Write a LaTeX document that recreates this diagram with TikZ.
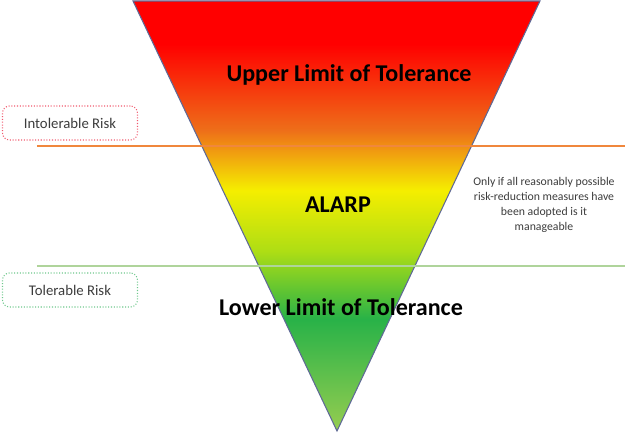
\documentclass[tikz,border=0pt]{standalone}
\usepackage{fontspec}
\setmainfont{Carlito}
\usepackage{xcolor}
\usepackage{tikz}
\usetikzlibrary{positioning, shapes, calc}

\definecolor{riskred}{RGB}{255,0,0}
\definecolor{riskorange}{RGB}{238,110,25}
\definecolor{riskyellow}{RGB}{245,238,0}
\definecolor{riskyg}{RGB}{175,222,20}
\definecolor{riskgreen}{RGB}{40,178,72}
\definecolor{risklight}{RGB}{150,205,80}
\definecolor{edgeblue}{RGB}{95,105,150}
\definecolor{lineorange}{RGB}{240,135,60}
\definecolor{linegreen}{RGB}{175,212,155}
\definecolor{boxred}{RGB}{240,90,110}
\definecolor{boxgreen}{RGB}{110,200,140}
\definecolor{notegray}{RGB}{60,60,60}

\pgfdeclareverticalshading{riskgrad}{100bp}{
  color(0bp)=(risklight); color(25bp)=(risklight);
  color(38bp)=(riskgreen); color(46bp)=(riskyg);
  color(53bp)=(riskyellow); color(60bp)=(riskorange);
  color(70bp)=(riskred); color(75bp)=(riskred); color(100bp)=(riskred)}

\begin{document}
\begin{tikzpicture}[x=0.02cm, y=-0.02cm,
    zone/.style={font=\bfseries\fontsize{13.7}{15}\selectfont, text=black},
    riskbox/.style={draw, densely dotted, rounded corners=4pt, line width=0.6pt,
      minimum width=2.7cm, minimum height=0.68cm, font=\fontsize{8.4}{9}\selectfont, text=notegray},
    note/.style={align=center, font=\fontsize{6.7}{8.6}\selectfont, text=notegray}]
      \useasboundingbox (0,0) rectangle (627,435);

      % inverted triangle
      \shade[shading=riskgrad, draw=edgeblue, line width=0.6pt]
        (133,1) coordinate (tl) -- (540,1) coordinate (tr) -- (337,431) coordinate (tip) -- cycle;

      % limit lines
      \coordinate (ol) at (37,146);
      \coordinate (or) at (625,146);
      \coordinate (gl) at (37,266);
      \coordinate (gr) at (625,266);
      \draw[lineorange, line width=0.8pt] (ol) -- (or);
      \draw[linegreen, line width=1pt] (gl) -- (gr);

      \node[zone] (upper) at (349,75) {Upper Limit of Tolerance};
      \node[zone] (alarp) at (338,205) {ALARP};
      \node[zone] (lower) at (341,307) {Lower Limit of Tolerance};

      \node[riskbox, draw=boxred] (intol) at (70,123) {Intolerable Risk};
      \node[riskbox, draw=boxgreen] (tol) at (70,290) {Tolerable Risk};

      \node[note] (manage) at (544,205) {Only if all reasonably possible\\risk-reduction measures have\\been adopted is it\\manageable};
    \end{tikzpicture}
\end{document}
